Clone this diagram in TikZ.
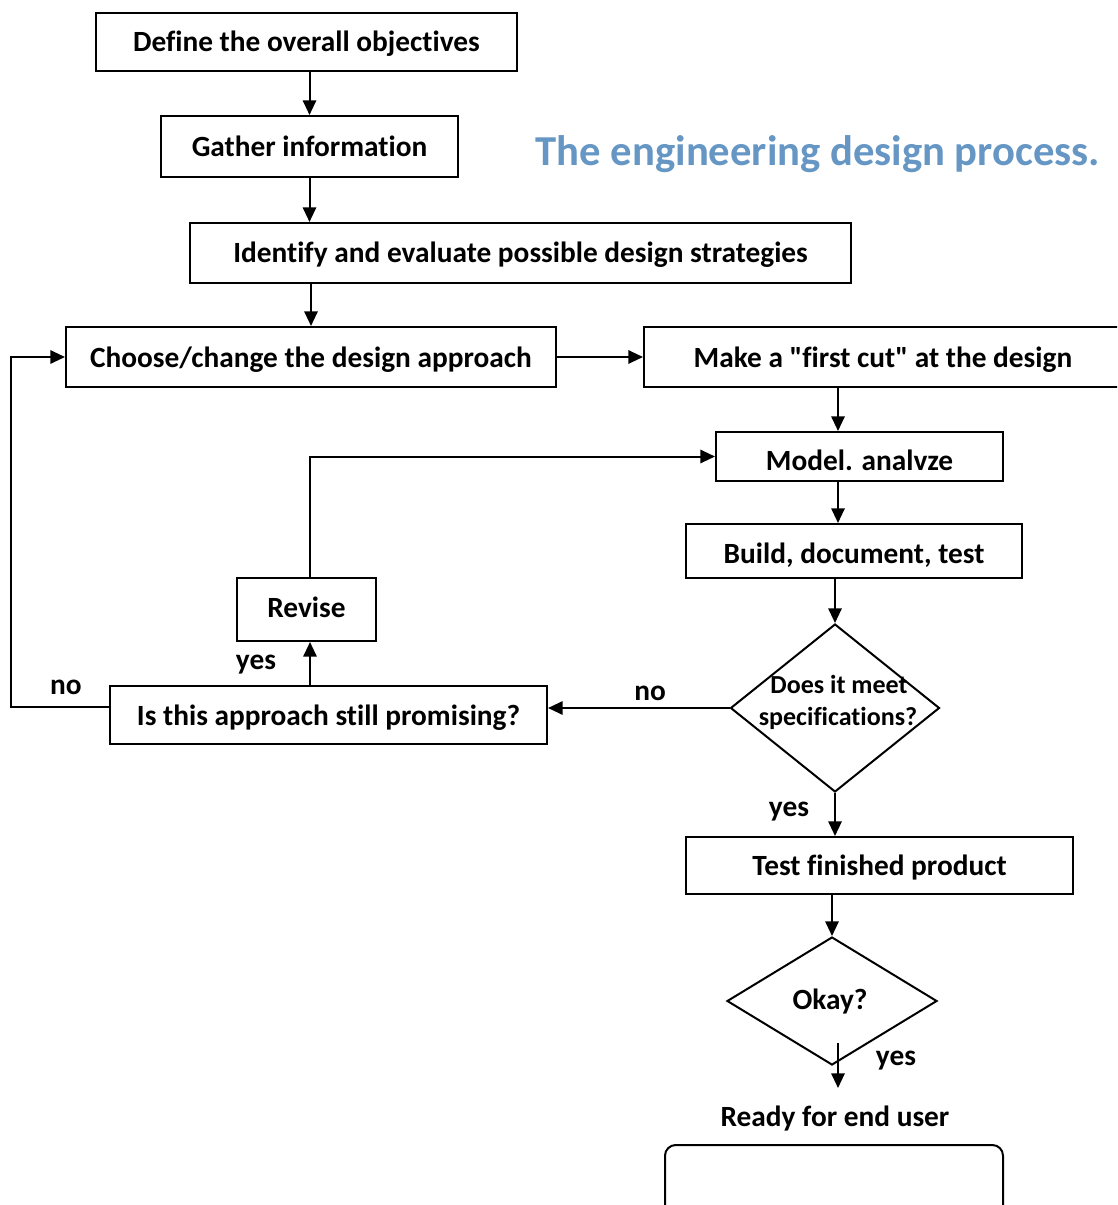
\documentclass[tikz,border=0pt]{standalone}
\usepackage{fontspec}
\setmainfont{Carlito}[Ligatures={TeXOff,NoCommon}]
\usetikzlibrary{shapes.geometric,arrows.meta,calc}
\definecolor{titleblue}{RGB}{101,150,196}
\begin{document}
\begin{tikzpicture}[x=0.75pt,y=-0.75pt,
  every node/.style={font=\bfseries\fontsize{22}{26}\selectfont},
  box/.style={draw,line width=1.5pt,inner sep=0pt,align=center,text height=18pt,text depth=3pt},
  dia/.style={draw,diamond,line width=1.5pt,inner sep=0pt},
  lbl/.style={inner sep=0pt,anchor=base},
  conn/.style={line width=1.5pt},
  arr/.style={conn,-{Triangle[length=11pt,width=10pt]}}]
\useasboundingbox (0,0) rectangle (1117,1205);
\clip (0,0) rectangle (1117,1205);
% title
\node[lbl,text=titleblue,font=\bfseries\fontsize{32}{38}\selectfont] (title) at (818,166) {The engineering design process.};
% boxes
\node[box,minimum width=421*0.75pt,minimum height=58*0.75pt] (def) at (306.5,42) {Define the overall objectives};
\node[box,minimum width=297*0.75pt,minimum height=61*0.75pt] (gat) at (309.5,146.5) {Gather information};
\node[box,minimum width=661*0.75pt,minimum height=60*0.75pt] (ide) at (520.5,253) {Identify and evaluate possible design strategies};
\node[box,minimum width=490*0.75pt,minimum height=60*0.75pt] (cho) at (311,357) {Choose/change the design approach};
\node[box,minimum width=480*0.75pt,minimum height=60*0.75pt] (mak) at (884,357) {};
\node[lbl] (makt) at (883,367) {Make a "first cut" at the design};
\node[box,minimum width=287*0.75pt,minimum height=49*0.75pt] (mod) at (859.5,456.5) {};
\node[lbl] (modt) at (859.5,470) {Model. analvze};
\node[box,minimum width=336*0.75pt,minimum height=54*0.75pt] (bui) at (854,551) {};
\node[lbl] (buit) at (854,563) {Build, document, test};
\node[dia,minimum width=209*0.75pt,minimum height=168*0.75pt] (d1) at (835,708) {};
\node[lbl,font=\bfseries\fontsize{19.5}{24}\selectfont] (d1a) at (839,693) {Does it meet};
\node[lbl,font=\bfseries\fontsize{19.5}{24}\selectfont] (d1b) at (838,725) {specifications?};
\node[box,minimum width=387*0.75pt,minimum height=57*0.75pt] (tst) at (879.5,865.5) {Test finished product};
\node[dia,minimum width=210*0.75pt,minimum height=128*0.75pt] (ok) at (832,1001) {};
\node[lbl] (okt) at (830,1009) {Okay?};
\node[lbl] (rdy) at (835,1126) {Ready for end user};
\node[box,rounded corners=8pt,minimum width=338*0.75pt,minimum height=80*0.75pt] (end) at (834,1185) {};
\node[box,minimum width=139*0.75pt,minimum height=63*0.75pt] (rev) at (306.5,609.5) {};
\node[lbl] (revt) at (306.5,617) {Revise};
\node[box,minimum width=437*0.75pt,minimum height=58*0.75pt] (isa) at (328.5,715) {Is this approach still promising?};
% labels
\node[lbl] (l1) at (650,700) {no};
\node[lbl] (l2) at (256,669) {yes};
\node[lbl] (l3) at (66,694) {no};
\node[lbl] (l4) at (789,816) {yes};
\node[lbl] (l5) at (896,1065) {yes};
% helper coordinates
\coordinate (mx) at (838,0);
\coordinate (rx) at (310,0);
\coordinate (lft) at (11,707);
\coordinate (oks) at (838,1043);
\coordinate (oke) at (838,1088);
% connectors
\draw[arr] (gat.north |- def.south) -- (gat.north);
\draw[arr] (gat.south) -- (gat.south |- ide.north);
\draw[arr] (cho.north |- ide.south) -- (cho.north);
\draw[arr] (cho.east) -- (mak.west);
\draw[arr] (mak.south -| mx) -- (mod.north -| mx);
\draw[arr] (mod.south -| mx) -- (bui.north -| mx);
\draw[arr] (d1.north |- bui.south) -- (d1.north);
\draw[arr] (d1.west) -- (d1.west -| isa.east);
\draw[arr] (isa.north -| rx) -- (rev.south -| rx);
\draw[arr] (rev.north -| rx) |- (mod.west);
\draw[arr] (isa.west |- lft) -- (lft) |- (cho.west);
\draw[arr] (d1.south) -- (d1.south |- tst.north);
\draw[arr] (ok.north |- tst.south) -- (ok.north);
\draw[arr] (oks) -- (oke);
\end{tikzpicture}
\end{document}
